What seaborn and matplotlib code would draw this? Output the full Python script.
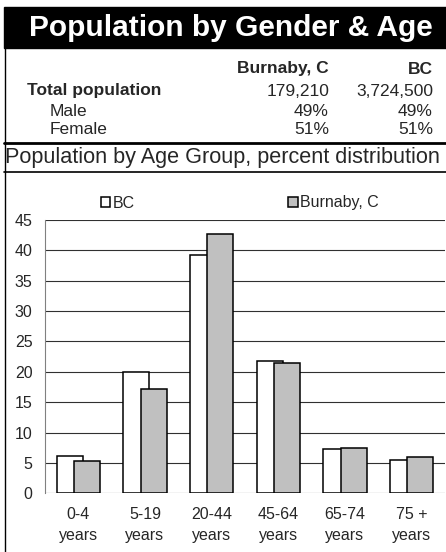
import numpy as np
import pandas as pd
import matplotlib
matplotlib.use("Agg")
import matplotlib.pyplot as plt
import seaborn as sns
from matplotlib.patches import Rectangle
from matplotlib.lines import Line2D

# Data
age_groups = ['0-4\nyears', '5-19\nyears', '20-44\nyears', '45-64\nyears', '65-74\nyears', '75 +\nyears']
bc_pct = [6.2, 20.0, 39.2, 21.8, 7.3, 5.5]
burnaby_pct = [5.3, 17.1, 42.7, 21.5, 7.4, 5.9]
series_names = ['BC', 'Burnaby, C']

table_cols = ['Burnaby, C', 'BC']
table_rows = ['Total population', 'Male', 'Female']
table_vals = [['179,210', '3,724,500'], ['49%', '49%'], ['51%', '51%']]

df = pd.DataFrame({
    'age': age_groups * 2,
    'pct': bc_pct + burnaby_pct,
    'area': [series_names[0]] * 6 + [series_names[1]] * 6,
})

sns.set_style("white")
plt.rcParams['font.family'] = ['Liberation Sans', 'DejaVu Sans']

W, H = 446, 552
fig = plt.figure(figsize=(W / 100, H / 100), dpi=100)

def fx(px):
    return px / W

def fy(py):
    return 1 - py / H

# Title band
fig.patches.append(Rectangle((fx(4), fy(48)), fx(446) - fx(4), fy(7) - fy(48),
                             transform=fig.transFigure, color='black', zorder=0))
fig.text(fx(231), fy(28), 'Population by Gender & Age', color='white',
         fontsize=21.5, fontweight='bold', ha='center', va='center')

# Summary table
fs_tab = 12.5
fig.text(fx(329), fy(69), table_cols[0], fontsize=fs_tab, fontweight='bold', ha='right', va='center')
fig.text(fx(433), fy(69), table_cols[1], fontsize=fs_tab, fontweight='bold', ha='right', va='center')
row_y = [91, 112, 130]
row_x = [27, 50, 50]
for i, name in enumerate(table_rows):
    fig.text(fx(row_x[i]), fy(row_y[i]), name, fontsize=fs_tab,
             fontweight='bold' if i == 0 else 'normal', ha='left', va='center')
    fig.text(fx(329), fy(row_y[i]), table_vals[i][0], fontsize=fs_tab, ha='right', va='center')
    fig.text(fx(433), fy(row_y[i]), table_vals[i][1], fontsize=fs_tab, ha='right', va='center')

# Separator lines and border
fig.add_artist(Line2D([fx(4), 1], [fy(143), fy(143)], color='black', lw=2))
fig.add_artist(Line2D([fx(4), 1], [fy(172), fy(172)], color='black', lw=1.2))
fig.add_artist(Line2D([fx(4.5), fx(4.5)], [fy(48), 0], color='black', lw=1))
fig.text(fx(222), fy(157), 'Population by Age Group, percent distribution',
         fontsize=15.6, ha='center', va='center')

# Bar chart
ax = fig.add_axes([fx(45), fy(493.3), fx(445) - fx(45), fy(220) - fy(493.3)])
sns.barplot(data=df, x='age', y='pct', hue='area', hue_order=series_names,
            palette=['white', '#C0C0C0'], edgecolor='black', linewidth=1.1,
            width=0.8, ax=ax, legend=True, saturation=1)

offsets = [-0.13, 0.13]
for k, cont in enumerate(ax.containers):
    for bar in cont:
        c = bar.get_x() + bar.get_width() / 2
        g = round(c)
        bar.set_width(0.39)
        bar.set_x(g + offsets[k] - 0.195)

ax.set_ylim(0, 45)
ax.set_yticks(range(0, 50, 5))
ax.set_xlim(-0.5, 5.5)
ax.set_axisbelow(True)
ax.yaxis.grid(True, color='#303030', lw=0.8)
ax.set_xlabel('')
ax.set_ylabel('')
for s in ['top', 'right', 'bottom']:
    ax.spines[s].set_visible(False)
ax.spines['left'].set_color('#808080')
ax.spines['left'].set_linewidth(0.8)
ax.tick_params(axis='both', length=0, labelsize=11.5)
ax.tick_params(axis='x', pad=10)
ax.tick_params(axis='y', pad=9)
for lbl in ax.get_xticklabels():
    lbl.set_linespacing(1.45)

handles, labels = ax.get_legend_handles_labels()
ax.legend_.remove()
fig.legend(handles, labels, loc='center', bbox_to_anchor=(fx(240), fy(203)),
           ncol=2, frameon=False, fontsize=11.5, handlelength=0.6, handleheight=0.6,
           handletextpad=0.15, columnspacing=9.6, borderaxespad=0)

fig.savefig('out.png', dpi=100)
